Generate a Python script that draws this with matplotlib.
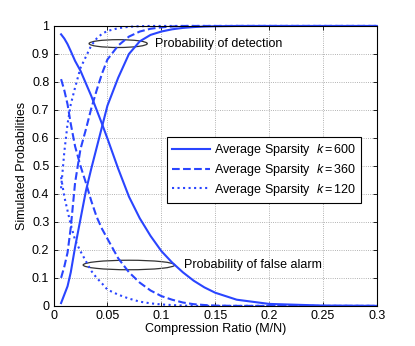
import numpy as np
import matplotlib
matplotlib.use("Agg")
import matplotlib.pyplot as plt
from matplotlib.patches import Ellipse

plt.rcParams['font.family'] = ['Liberation Sans', 'DejaVu Sans']
plt.rcParams['mathtext.fontset'] = 'custom'
plt.rcParams['mathtext.it'] = 'Liberation Sans:italic'
plt.rcParams['mathtext.rm'] = 'Liberation Sans'

# compression ratio grid
ratio = [0.007, 0.01, 0.013, 0.016, 0.02, 0.025, 0.03, 0.035, 0.04, 0.045, 0.05,
         0.06, 0.07, 0.08, 0.09, 0.1, 0.11, 0.12, 0.13, 0.14, 0.15, 0.17, 0.2, 0.25, 0.3]

# probability of detection
pd_600 = [0.01, 0.04, 0.07, 0.12, 0.21, 0.31, 0.41, 0.49, 0.565, 0.64, 0.715,
          0.815, 0.90, 0.945, 0.968, 0.98, 0.988, 0.993, 0.996, 0.998, 0.999, 1, 1, 1, 1]
pd_360 = [0.10, 0.14, 0.19, 0.28, 0.44, 0.56, 0.63, 0.705, 0.77, 0.83, 0.88,
          0.93, 0.962, 0.98, 0.99, 0.995, 0.998, 1, 1, 1, 1, 1, 1, 1, 1]
pd_120 = [0.42, 0.55, 0.65, 0.72, 0.78, 0.85, 0.89, 0.93, 0.955, 0.972, 0.982,
          0.992, 0.997, 0.999, 1, 1, 1, 1, 1, 1, 1, 1, 1, 1, 1]

# probability of false alarm
pf_600 = [0.97, 0.955, 0.935, 0.91, 0.875, 0.84, 0.795, 0.75, 0.70, 0.65, 0.598,
          0.49, 0.39, 0.313, 0.25, 0.196, 0.155, 0.12, 0.09, 0.066, 0.047, 0.022, 0.007, 0.001, 0]
pf_360 = [0.81, 0.77, 0.72, 0.65, 0.57, 0.50, 0.44, 0.375, 0.318, 0.275, 0.24,
          0.17, 0.12, 0.083, 0.055, 0.035, 0.022, 0.012, 0.006, 0.003, 0.001, 0, 0, 0, 0]
pf_120 = [0.46, 0.39, 0.34, 0.29, 0.235, 0.195, 0.16, 0.125, 0.10, 0.08, 0.058,
          0.04, 0.026, 0.015, 0.009, 0.005, 0.003, 0.001, 0, 0, 0, 0, 0, 0, 0]

labels = [r'Average Sparsity  $\mathit{k{=}600}$',
          r'Average Sparsity  $\mathit{k{=}360}$',
          r'Average Sparsity  $\mathit{k{=}120}$']

blue = '#2a45ff'
fig = plt.figure(figsize=(4.15, 3.46), dpi=100)
ax = fig.add_axes([0.129, 0.116, 0.779, 0.809])

styles = ['-', '--', ':']
for pd_, pf_, ls, lab in zip([pd_600, pd_360, pd_120], [pf_600, pf_360, pf_120], styles, labels):
    ax.plot(ratio, pd_, ls, color=blue, lw=1.5, label=lab, clip_on=False)
    ax.plot(ratio, pf_, ls, color=blue, lw=1.5, clip_on=False)

ax.add_patch(Ellipse((0.060, 0.937), 0.054, 0.028, fill=False, ec='#333333', lw=0.9))
ax.text(0.094, 0.937, 'Probability of detection', fontsize=9, va='center')
ax.add_patch(Ellipse((0.070, 0.146), 0.085, 0.034, fill=False, ec='#333333', lw=0.9))
ax.text(0.1215, 0.146, 'Probability of false alarm', fontsize=9, va='center')

ax.set_xlim(0, 0.3)
ax.set_ylim(0, 1)
ax.set_xticks(np.arange(0, 0.31, 0.05))
ax.set_xticklabels(['0', '0.05', '0.1', '0.15', '0.2', '0.25', '0.3'])
ax.set_yticks(np.arange(0, 1.01, 0.1))
ax.set_yticklabels(['0', '0.1', '0.2', '0.3', '0.4', '0.5', '0.6', '0.7', '0.8', '0.9', '1'])
ax.tick_params(direction='in', top=True, right=True, labelsize=9, length=3, width=0.6, pad=3)
ax.grid(True, ls=':', color='#999999', lw=0.6)
for s in ax.spines.values():
    s.set_linewidth(0.8)

ax.set_xlabel('Compression Ratio (M/N)', fontsize=9, labelpad=1)
ax.set_ylabel('Simulated Probabilities', fontsize=9, labelpad=3)

leg = ax.legend(loc='upper left', bbox_to_anchor=(0.352, 0.602), fontsize=9,
                fancybox=False, framealpha=1, edgecolor='black', handlelength=3,
                borderpad=0.4, labelspacing=0.3, handletextpad=0.3, borderaxespad=0)
leg.get_frame().set_linewidth(0.8)

fig.savefig('out.png', dpi=100)
